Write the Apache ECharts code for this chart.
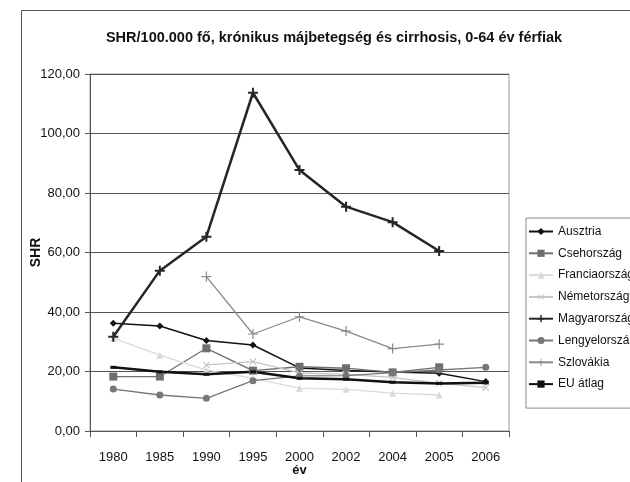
<!DOCTYPE html>
<html>
<head>
<meta charset="utf-8">
<script src="https://cdn.jsdelivr.net/npm/echarts@6/dist/echarts.min.js"></script>
<style>html,body{margin:0;padding:0;background:#fff}#c{width:630px;height:482px}</style>
</head>
<body>
<div id="c"></div>
<script>
var categories = ['1980','1985','1990','1995','2000','2002','2004','2005','2006'];
var ausztria      = [36.2, 35.3, 30.4, 28.9, 21.2, 20.3, 19.8, 19.4, 16.6];
var csehorszag    = [18.3, 18.3, 27.8, 20.3, 21.6, 21.1, 19.7, 21.4, null];
var franciaorszag = [31.2, 25.5, 20.5, 17.7, 14.4, 14.0, 12.7, 12.1, null];
var nemetorszag   = [null, null, 22.2, 23.3, 19.5, 19.0, 18.0, 16.0, 14.6];
var magyarorszag  = [31.7, 53.9, 65.3, 113.7, 87.7, 75.4, 70.2, 60.5, null];
var lengyelorszag = [14.1, 12.1, 11.0, 16.9, 18.5, 18.6, 19.6, 20.5, 21.4];
var szlovakia     = [null, null, 51.9, 32.6, 38.4, 33.6, 27.7, 29.2, null];
var euAtlag       = [21.4, 19.9, 19.1, 19.9, 17.7, 17.4, 16.4, 16.0, 16.2];
var seriesNames = ['Ausztria','Csehország','Franciaország','Németország','Magyarország','Lengyelország','Szlovákia','EU átlag'];
var yTicks = {min: 0, max: 120, interval: 20};

var FONT = '"Liberation Sans", Arial, sans-serif';
var plusPath = 'path://M4,0h2v4h4v2h-4v4h-2v-4h-4v-2h4z';
var plusThin = 'path://M4.4,0h1.2v4.4h4.4v1.2h-4.4v4.4h-1.2v-4.4h-4.4v-1.2h4.4z';

function mk(name, data, color, width, symbol, size, rot) {
  return {
    name: name, type: 'line', data: data,
    symbol: symbol, symbolSize: size, symbolRotate: rot || 0,
    showSymbol: true, connectNulls: false,
    lineStyle: {color: color, width: width},
    itemStyle: {color: color},
    emphasis: {disabled: true},
    animation: false
  };
}

var chart = echarts.init(document.getElementById('c'), null, {renderer: 'canvas'});
chart.setOption({
  backgroundColor: '#fff',
  animation: false,
  title: {
    text: 'SHR/100.000 fő, krónikus májbetegség és cirrhosis, 0-64 év férfiak',
    left: 329, top: 25, textAlign: 'center',
    textStyle: {fontFamily: FONT, fontSize: 14.5, fontWeight: 'bold', color: '#111'}
  },
  graphic: [{
    type: 'rect', shape: {x: 21.5, y: 10.5, width: 700, height: 600},
    style: {fill: null, stroke: '#555', lineWidth: 1}, silent: true, z: -1
  }],
  grid: {left: 90, top: 74, right: 121, bottom: 51, show: true, borderColor: '#999', borderWidth: 1,
    containLabel: false, outerBoundsMode: 'none'},
  legend: {
    orient: 'vertical', left: 526, top: 218,
    padding: [7.5, 30, 18, 2],
    itemWidth: 24, itemHeight: 9, itemGap: 9.8,
    borderColor: '#888', borderWidth: 1, backgroundColor: '#fff',
    textStyle: {fontFamily: FONT, fontSize: 12, color: '#111'},
    data: seriesNames
  },
  xAxis: {
    type: 'category', data: categories, boundaryGap: true,
    name: 'év', nameLocation: 'middle', nameGap: 33, nameMoveOverlap: false,
    nameTextStyle: {fontFamily: FONT, fontSize: 13, fontWeight: 'bold', color: '#111'},
    axisLine: {lineStyle: {color: '#555', width: 1}},
    axisTick: {show: true, alignWithLabel: false, length: 6, interval: 0, lineStyle: {color: '#555'}},
    axisLabel: {margin: 20, fontFamily: FONT, fontSize: 13, color: '#111', interval: 0}
  },
  yAxis: {
    type: 'value', min: yTicks.min, max: yTicks.max, interval: yTicks.interval,
    name: 'SHR', nameLocation: 'middle', nameGap: 47, nameRotate: 90, nameMoveOverlap: false,
    nameTextStyle: {fontFamily: FONT, fontSize: 14, fontWeight: 'bold', color: '#111'},
    axisLine: {show: true, lineStyle: {color: '#555', width: 1}},
    axisTick: {show: true, length: 5, lineStyle: {color: '#555'}},
    splitLine: {show: true, lineStyle: {color: '#555', width: 1}},
    axisLabel: {margin: 10, fontFamily: FONT, fontSize: 13, color: '#111',
      formatter: function (v) { return v.toFixed(2).replace('.', ','); }}
  },
  series: [
    mk('Ausztria', ausztria, '#111', 1.5, 'diamond', 7),
    mk('Csehország', csehorszag, '#6e6e6e', 1.3, 'rect', 8),
    mk('Franciaország', franciaorszag, '#dadada', 1.3, 'triangle', 7),
    mk('Németország', nemetorszag, '#c4c4c4', 1.3, plusThin, 9, 45),
    mk('Magyarország', magyarorszag, '#262626', 2.5, plusPath, 10),
    mk('Lengyelország', lengyelorszag, '#777', 1.3, 'circle', 7),
    mk('Szlovákia', szlovakia, '#8a8a8a', 1.3, plusThin, 10),
    mk('EU átlag', euAtlag, '#111', 2.5, 'rect', [6, 3])
  ]
});
</script>
</body>
</html>
